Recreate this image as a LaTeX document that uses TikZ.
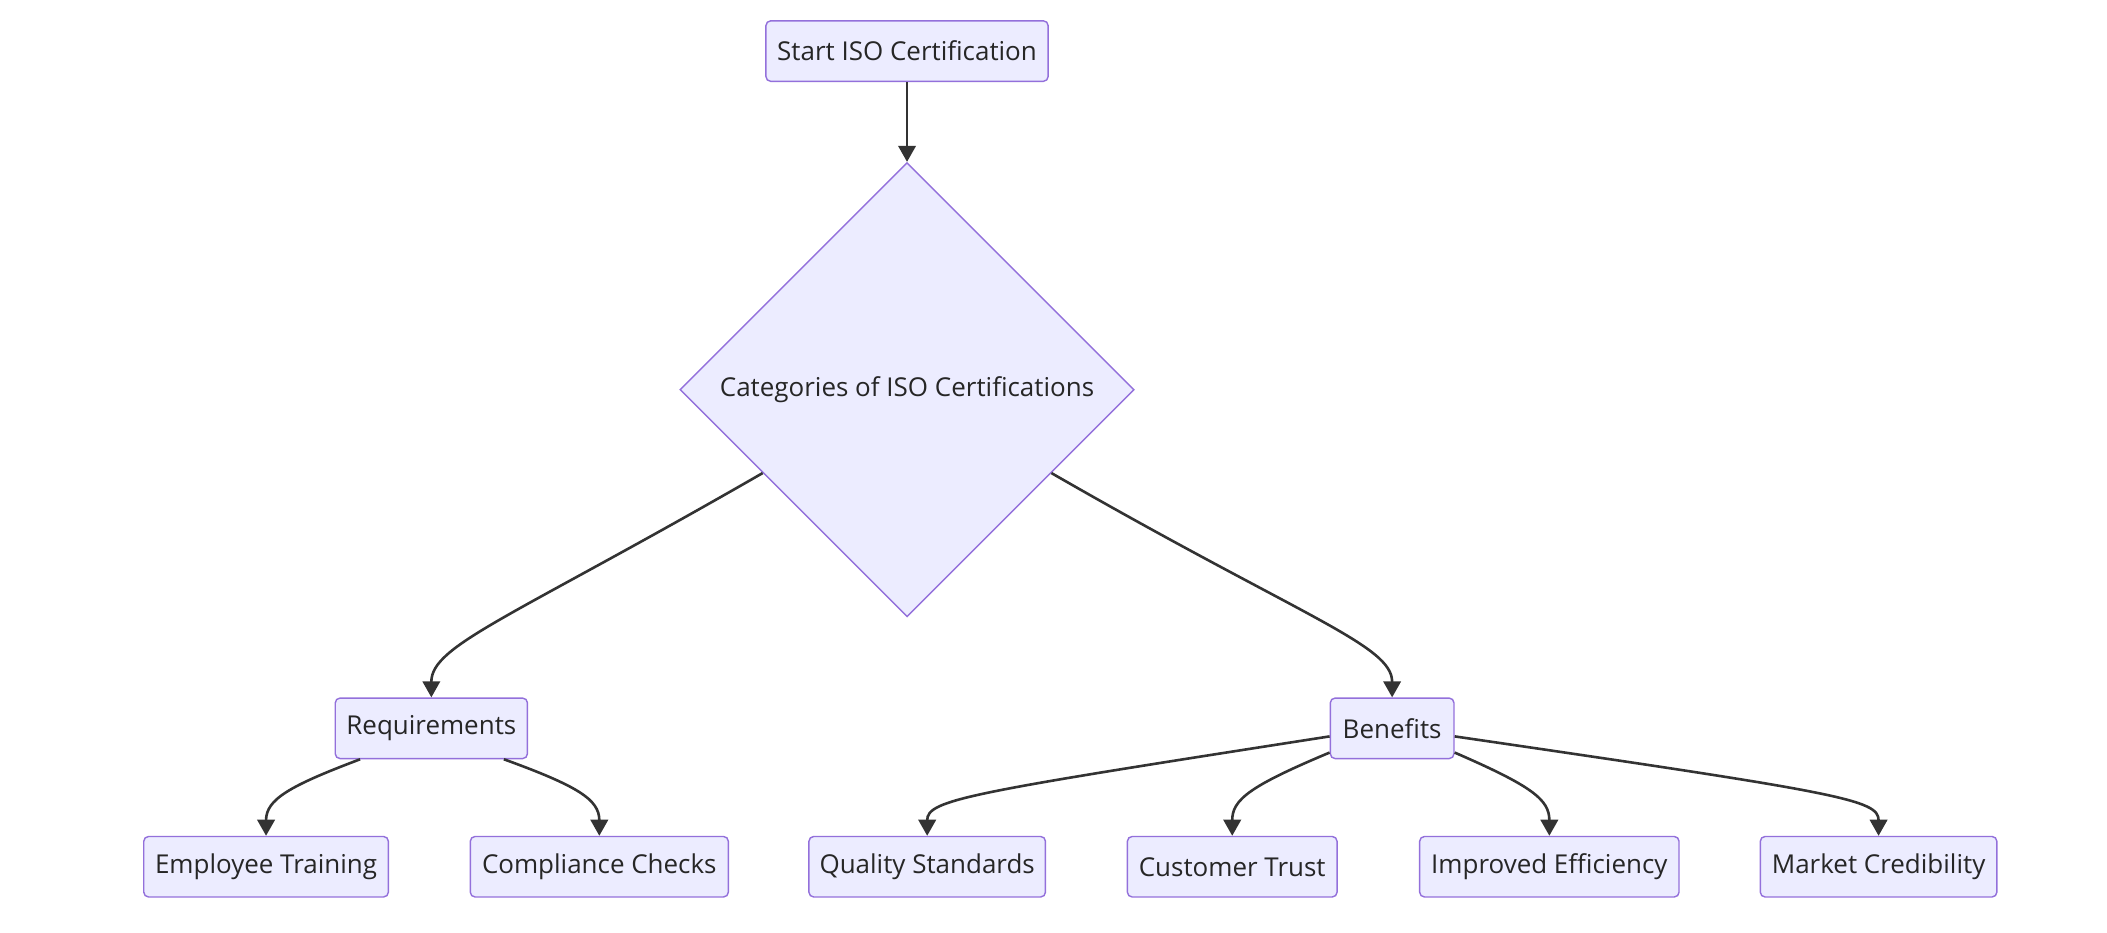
\documentclass[tikz,border=0pt]{standalone}
\usepackage{fontspec}
\setmainfont{Open Sans}
\usetikzlibrary{shapes.geometric,arrows.meta,calc}
\definecolor{nfill}{HTML}{ECECFF}
\definecolor{nstroke}{HTML}{9370DB}
\definecolor{edge}{HTML}{333333}
\begin{document}
\begin{tikzpicture}[x=0.02cm,y=-0.02cm,
  box/.style={draw=nstroke,fill=nfill,rounded corners=2pt,line width=0.6pt,minimum height=45*0.02cm,inner sep=0pt,font=\fontsize{11}{13}\selectfont,text=black!85},
  dia/.style={draw=nstroke,fill=nfill,diamond,line width=0.6pt,minimum width=338*0.02cm,minimum height=338*0.02cm,inner sep=0pt,font=\fontsize{11}{13}\selectfont,text=black!85},
  arr/.style={draw=edge,line width=1.1pt,-{Triangle[length=0.24cm,width=0.26cm]}}]
\useasboundingbox (0,0) rectangle (1568,694);
\node[box,minimum width=210*0.02cm] (s) at (675,38) {Start ISO Certification};
\node[dia] (d) at (675,290) {Categories of ISO Certifications};
\node[box,minimum width=143*0.02cm] (r) at (321,542) {Requirements};
\node[box,minimum width=92*0.02cm] (b) at (1036,542) {Benefits};
\node[box,minimum width=182*0.02cm] (e1) at (198,645) {Employee Training};
\node[box,minimum width=192*0.02cm] (e2) at (446,645) {Compliance Checks};
\node[box,minimum width=176*0.02cm] (q) at (690,645) {Quality Standards};
\node[box,minimum width=156*0.02cm] (c) at (917,645) {Customer Trust};
\node[box,minimum width=193*0.02cm] (i) at (1153,645) {Improved Efficiency};
\node[box,minimum width=176*0.02cm] (m) at (1398,645) {Market Credibility};
\draw[arr] (s) -- (d);
\draw[arr] (d.-150) .. controls (380,460) and (321,480) .. (r.north);
\draw[arr] (d.-30) .. controls (970,460) and (1036,480) .. (b.north);
\draw[arr] ($(r.south)+(-53,0)$) .. controls (215,585) and (198,595) .. (e1.north);
\draw[arr] ($(r.south)+(54,0)$) .. controls (430,585) and (446,595) .. (e2.north);
\draw[arr] ($(b.west)+(0,6)$) .. controls (720,590) and (690,595) .. (q.north);
\draw[arr] ($(b.south west)+(0,-5)$) .. controls (930,585) and (917,595) .. (c.north);
\draw[arr] ($(b.south east)+(0,-5)$) .. controls (1140,585) and (1153,595) .. (i.north);
\draw[arr] ($(b.east)+(0,6)$) .. controls (1370,590) and (1398,595) .. (m.north);
\end{tikzpicture}
\end{document}
